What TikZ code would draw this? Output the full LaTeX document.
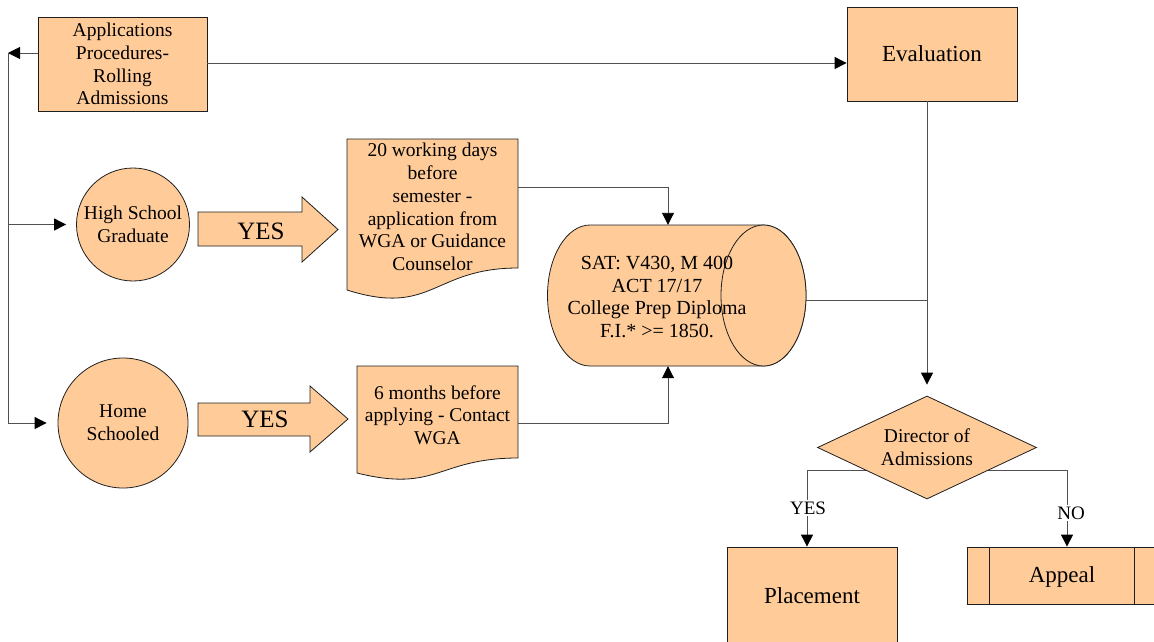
\documentclass[tikz,border=0pt]{standalone}
\usepackage{fontspec}
\setmainfont{Liberation Serif}
\usetikzlibrary{shapes.geometric,arrows.meta,backgrounds,calc}
\definecolor{peach}{RGB}{255,204,153}
\definecolor{wirecol}{RGB}{80,80,80}
\definecolor{edgecol}{RGB}{30,30,30}
\begin{document}
\begin{tikzpicture}[x=1pt,y=-1pt,
  box/.style={draw=edgecol, fill=peach, line width=0.8pt, inner sep=0pt, align=center,
              font=\fontsize{19.5}{22.7}\selectfont},
  txt/.style={align=center, inner sep=0pt, font=\fontsize{19.5}{22.7}\selectfont},
  bigtxt/.style={font=\fontsize{23}{26}\selectfont},
  wire/.style={draw=wirecol, line width=0.9pt},
  tip/.style={-{Triangle[length=12pt,width=12pt,color=black]}},
  outline/.style={draw=edgecol, fill=peach, line width=0.8pt},
  lbl/.style={fill=white, inner sep=1.5pt, font=\fontsize{19}{20}\selectfont}
]
\useasboundingbox (0,0) rectangle (1154,641);
\clip (0,0) rectangle (1154,641);

% main boxes
\node[box, minimum width=169pt, minimum height=94pt] (app) at (122.5,64)
  {Applications\\Procedures-\\Rolling\\Admissions};
\node[box, bigtxt, minimum width=170pt, minimum height=94pt] (eval) at (932,54) {Evaluation};

% applicant categories
\node[box, circle, minimum size=113pt] (hs) at (133,224.5) {High School\\Graduate};
\node[box, circle, minimum size=130pt] (home) at (123,423) {Home\\Schooled};

% block arrows
\path[outline] (198,212) -- (302,212) -- (302,197) -- (338,229.5) -- (302,262) -- (302,246) -- (198,246) -- cycle;
\node[txt, font=\fontsize{25}{28}\selectfont] (yes1) at (261,231) {YES};
\path[outline] (198,403) -- (310,403) -- (310,386) -- (348,419) -- (310,452) -- (310,436) -- (198,436) -- cycle;
\node[txt, font=\fontsize{25}{28}\selectfont] (yes2) at (265,419) {YES};

% document shapes
\path[outline] (347,139) -- (518,139) -- (518,268)
  .. controls (432.5,268) and (432.5,317) .. (347,290) -- cycle;
\node[txt] (doc1) at (432.5,207)
  {20 working days\\before\\semester -\\application from\\WGA or Guidance\\Counselor};
\path[outline] (357,366) -- (518,366) -- (518,458)
  .. controls (437.5,458) and (437.5,493) .. (357,473) -- cycle;
\node[txt] (doc2) at (437.5,415) {6 months before\\applying - Contact\\WGA};

% requirements cylinder
\path[outline] (590,225) -- (763.5,225)
  arc[start angle=-90, end angle=90, x radius=42.5, y radius=70.5] -- (590,366)
  arc[start angle=90, end angle=270, x radius=42.5, y radius=70.5] -- cycle;
\draw[outline] (763.5,295.5) ellipse [x radius=42.5, y radius=70.5];
\node[inner sep=0pt, minimum width=258.5pt, minimum height=141pt] (cyl) at (677,295.5) {};
\node[txt, font=\fontsize{20}{22.7}\selectfont] (cyltxt) at (657,297)
  {SAT: V430, M 400\\ACT 17/17\\College Prep Diploma\\F.I.* >= 1850.};

% decision and outcomes
\node[box, diamond, aspect=2.13, minimum width=219pt, minimum height=103pt] (dia) at (927,447.5)
  {Director of\\Admissions};
\node[box, bigtxt, minimum width=170pt, minimum height=98pt] (plc) at (812,596) {Placement};
\node[box, bigtxt, minimum width=190pt, minimum height=57pt, text depth=2pt] (apl) at (1062,575.5) {Appeal};
\draw[draw=edgecol, line width=0.8pt] ([xshift=23pt]apl.north west) -- ([xshift=23pt]apl.south west);
\draw[draw=edgecol, line width=0.8pt] ([xshift=-23pt]apl.north east) -- ([xshift=-23pt]apl.south east);

% connectors
\coordinate (bt) at (8,53);
\coordinate (bb) at (8,423);
\draw[wire, tip] ([yshift=11pt]app.west) -- (bt);
\draw[wire] (bt) -- (bb);
\draw[wire, tip, shorten >=10pt] (bt |- hs.center) -- (hs.west);
\draw[wire, tip, shorten >=11pt] (bb) -- (home.west);
\draw[wire, tip] ([yshift=1pt]app.east) -- ([yshift=1pt]app.east -| eval.west);
\draw[wire, tip, shorten >=11pt] (eval.south -| dia.north) -- (dia.north);

\coordinate (d1out) at (518,187);
\coordinate (d2out) at (518,423);
\draw[wire, tip] (d1out) -| ([xshift=-9pt]cyl.north);
\draw[wire, tip] (d2out) -| ([xshift=-9pt]cyl.south);
\coordinate (cj) at ($(cyl.east)+(0,4.5)$);
\draw[wire] (cj) -- (cj -| dia.north);

\begin{scope}[on background layer]
  \coordinate (fork) at ($(dia.center)+(0,22.5)$);
  \draw[wire, tip] (fork) -| ([xshift=-5pt]plc.north);
  \draw[wire, tip] (fork) -| ([xshift=5pt]apl.north);
\end{scope}
\node[lbl] (ylab) at (808,508) {YES};
\node[lbl] (nlab) at (1071,513) {NO};
\end{tikzpicture}
\end{document}
